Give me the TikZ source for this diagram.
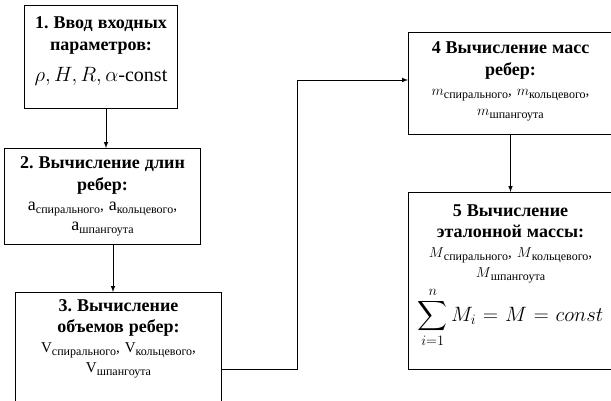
\documentclass[tikz,border=0pt]{standalone}
\usepackage{amsmath}
\usepackage{fontspec}
\setmainfont{Liberation Serif}
\frenchspacing
\usetikzlibrary{arrows,positioning}
\newcommand{\blockhead}[1]{{\fontsize{18}{21.5}\selectfont\bfseries #1\par}}
\newcommand{\subtext}[1]{\raisebox{-3pt}{\fontsize{12}{12}\selectfont #1}}
\newcommand{\bottomgap}[1]{\par\vskip #1\hrule height 0pt\relax}
\begin{document}
\begin{tikzpicture}[x=1pt,y=-1pt,>=latex,line width=1pt,block node/.style={draw,rectangle,anchor=north west,align=center,inner sep=3pt,font=\fontsize{15}{20}\selectfont}]
\useasboundingbox (0,0) rectangle (611,400);
\begin{scope}
\node[block node,minimum width=153pt,minimum height=103pt,text width=147pt] (input) at (24,5) {\blockhead{1. Ввод входных\\параметров:}\vspace{11pt}{\fontsize{20}{24}\selectfont $\rho, H, R, \alpha$-const}\bottomgap{12pt}};
\node[block node,minimum width=196pt,minimum height=96pt,text width=190pt] (length) at (4,148) {\blockhead{2. Вычисление длин\\ребер:}{\fontsize{18}{20}\selectfont а}\subtext{спирального}, {\fontsize{18}{20}\selectfont а}\subtext{кольцевого},\\{\fontsize{18}{20}\selectfont а}\subtext{шпангоута}};
\node[block node,minimum width=206pt,text width=200pt,inner ysep=7pt] (volume) at (15,292) {\blockhead{3. Вычисление\\объемов ребер:}V\subtext{спирального}, V\subtext{кольцевого},\\V\subtext{шпангоута}\par\vspace{20pt}\mbox{}};
\node[block node,minimum width=204pt,minimum height=102pt,text width=198pt] (mass) at (408,32) {\blockhead{4 Вычисление масс\\ребер:}$m$\subtext{спирального}, $m$\subtext{кольцевого},\\$m$\subtext{шпангоута}\bottomgap{4pt}};
\node[block node,minimum width=204pt,minimum height=177pt,text width=198pt] (etalon) at (408,192) {\blockhead{5 Вычисление\\эталонной массы:}$M$\subtext{спирального}, $M$\subtext{кольцевого},\\$M$\subtext{шпангоута}\par\vspace{3pt}{\fontsize{20}{24}\selectfont $\displaystyle\sum_{i=1}^{n} M_i = M = const$\par}\bottomgap{10pt}};
\end{scope}
\begin{scope}
\coordinate (a1) at (106,0);
\coordinate (a2) at (113,0);
\coordinate (c1) at (297,369);
\coordinate (c2) at (297,80);
\draw[->] (input.south -| a1) -- (length.north -| a1);
\draw[->] (length.south -| a2) -- (volume.north -| a2);
\draw[->] (volume.east |- c1) -- (c1) -- (c2) -- (mass.west |- c2);
\draw[->] (mass.south) -- (etalon.north);
\end{scope}
\end{tikzpicture}
\end{document}
